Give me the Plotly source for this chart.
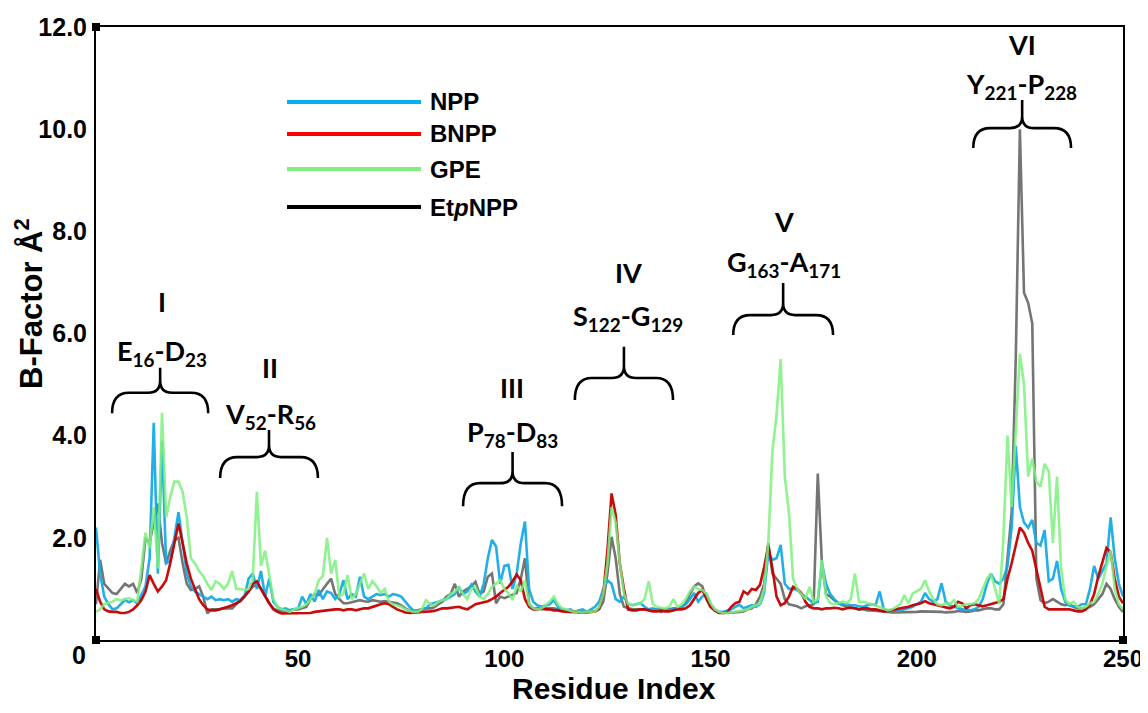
import plotly.graph_objects as go

# ---------------- data ----------------
residues = list(range(1, 251))

series_names = ["NPP", "BNPP", "GPE", "Et<i>p</i>NPP"]

npp = [
    2.2, 1.3, 0.85, 0.7, 0.6, 0.62, 0.7, 0.78, 0.74, 0.78,
    0.72, 0.9, 1.05, 1.6, 4.25, 1.3, 3.9, 1.5, 1.55, 2.0,
    2.5, 1.9, 1.3, 1.05, 0.95, 0.9, 0.85, 0.8, 0.85, 0.78,
    0.8, 0.78, 0.8, 0.75, 0.8, 0.78, 0.85, 1.2, 1.3, 1.0,
    1.35, 0.85, 1.2, 0.75, 0.65, 0.6, 0.62, 0.58, 0.6, 0.62,
    0.85, 0.7, 0.9, 0.75, 0.98, 0.8, 0.95, 0.92, 0.8, 0.9,
    1.17, 0.8, 0.9, 0.85, 1.24, 0.85, 0.8, 0.85, 0.9, 0.88,
    0.9, 0.85, 0.9, 0.88, 0.85, 0.75, 0.65, 0.58, 0.55, 0.6,
    0.62, 0.7, 0.72, 0.75, 0.78, 0.8, 0.85, 0.9, 1.04, 0.9,
    0.95, 1.08, 0.95, 0.85, 1.1, 1.6, 1.96, 1.83, 1.1, 1.45,
    1.47, 1.0, 1.3, 1.9, 2.32, 1.0, 0.75, 0.68, 0.65, 0.68,
    0.7, 0.78, 0.65, 0.6, 0.58, 0.6, 0.55, 0.58, 0.6, 0.55,
    0.6, 0.65, 0.75, 1.0, 1.17, 1.1, 0.8, 0.75, 0.85, 0.7,
    0.68, 0.7, 0.72, 0.65, 0.6, 0.62, 0.6, 0.55, 0.6, 0.58,
    0.62, 0.6, 0.65, 0.7, 0.8, 0.92, 0.75, 0.85, 0.9, 0.7,
    0.6, 0.55, 0.55, 0.58, 0.6, 0.65, 0.69, 0.62, 0.65, 0.68,
    0.65, 0.7, 0.92, 1.7, 1.57, 1.6, 1.86, 1.1, 1.0, 1.0,
    0.98, 0.9, 0.85, 0.78, 0.72, 0.75, 1.5, 1.1, 0.9, 0.8,
    0.72, 0.7, 0.7, 0.68, 0.68, 0.66, 0.65, 0.68, 0.7, 0.68,
    0.95, 0.6, 0.58, 0.58, 0.58, 0.58, 0.6, 0.62, 0.65, 0.7,
    0.75, 0.92, 0.8, 0.75, 0.8, 1.11, 0.75, 0.68, 0.65, 0.62,
    0.6, 0.6, 0.58, 0.6, 0.65, 0.8, 1.1, 1.3, 1.15, 1.1,
    1.2, 1.45, 2.2, 3.8, 2.6, 2.3, 2.2, 2.35, 1.9, 1.85,
    2.15, 1.15, 1.2, 1.55, 1.0, 0.75, 0.67, 0.66, 0.65, 0.7,
    0.7, 1.0, 1.45, 1.2, 1.35, 1.5, 2.4, 1.6, 1.1, 0.85,
]

bnpp = [
    1.0, 0.75, 0.6, 0.56, 0.55, 0.55, 0.53, 0.53, 0.55, 0.6,
    0.68, 0.78, 0.95, 1.27, 1.1, 0.95, 1.05, 1.17, 1.5, 1.9,
    2.28, 1.9, 1.5, 1.2, 1.0, 0.8, 0.68, 0.6, 0.58, 0.58,
    0.6, 0.62, 0.65, 0.68, 0.72, 0.76, 0.85, 0.95, 1.1, 1.15,
    1.0, 0.85, 0.72, 0.6, 0.55, 0.52, 0.52, 0.52, 0.53, 0.52,
    0.53, 0.53, 0.53, 0.55, 0.56, 0.58, 0.58, 0.6, 0.6, 0.6,
    0.58, 0.6, 0.6, 0.58, 0.6, 0.62, 0.62, 0.65, 0.68, 0.7,
    0.72, 0.7, 0.65, 0.6, 0.57, 0.54, 0.53, 0.53, 0.54, 0.55,
    0.55, 0.56, 0.57, 0.6, 0.62, 0.62, 0.63, 0.65, 0.65, 0.62,
    0.6, 0.65, 0.7, 0.72, 0.74, 0.76, 0.8, 0.85, 0.92, 0.98,
    1.04, 1.15, 1.28, 1.17, 0.8, 0.65, 0.6, 0.6, 0.62, 0.6,
    0.6, 0.58, 0.58, 0.56, 0.55, 0.55, 0.55, 0.54, 0.54, 0.54,
    0.55, 0.56, 0.62, 0.9, 1.76, 2.87, 2.45, 1.5, 1.0, 0.6,
    0.58, 0.58, 0.6, 0.6, 0.58, 0.56, 0.56, 0.57, 0.56, 0.56,
    0.58, 0.6, 0.6, 0.62, 0.68, 0.8, 0.92, 0.98, 0.8, 0.65,
    0.58, 0.53, 0.53, 0.54, 0.65, 0.72, 0.75, 0.95, 0.9, 1.0,
    0.98, 1.08, 1.43, 1.85, 1.4, 0.85, 0.68, 0.72, 0.85, 1.04,
    1.0, 0.92, 0.75, 0.65, 0.62, 0.62, 0.6, 0.62, 0.62, 0.63,
    0.62, 0.6, 0.62, 0.63, 0.62, 0.6, 0.62, 0.62, 0.6, 0.6,
    0.58, 0.56, 0.57, 0.58, 0.6, 0.62, 0.63, 0.65, 0.68, 0.7,
    0.72, 0.76, 0.72, 0.7, 0.68, 0.66, 0.64, 0.62, 0.65, 0.75,
    0.72, 0.62, 0.68, 0.7, 0.68, 0.66, 0.68, 0.7, 0.72, 0.75,
    0.8, 1.2, 1.5, 1.85, 2.2, 2.1, 1.9, 1.75, 1.4, 1.0,
    0.65, 0.6, 0.6, 0.6, 0.6, 0.6, 0.6, 0.58, 0.56, 0.56,
    0.6, 0.7, 0.9, 1.24, 1.5, 1.8, 1.72, 1.2, 0.85, 0.72,
]

gpe = [
    0.55, 0.6, 0.7, 0.72, 0.75, 0.8, 0.78, 0.8, 0.82, 0.78,
    0.75, 1.4, 2.1, 1.8, 2.6, 1.4, 4.45, 2.4, 2.8, 3.1,
    3.1, 2.9, 2.4, 1.6, 1.5, 1.35, 1.25, 1.1, 0.98, 1.15,
    1.1, 1.0, 1.1, 1.35, 1.0, 1.0, 0.98, 1.0, 1.2, 2.9,
    1.45, 1.75, 1.3, 0.8, 0.65, 0.6, 0.58, 0.55, 0.6, 0.62,
    0.65, 0.7, 0.8, 0.9, 1.17, 1.25, 2.0, 1.3, 1.57, 0.85,
    0.9, 1.27, 0.8, 0.9, 1.1, 1.3, 1.0, 1.15, 1.05, 0.92,
    1.0, 0.75, 0.7, 0.68, 0.65, 0.6, 0.57, 0.55, 0.55, 0.6,
    0.78, 0.7, 0.68, 0.75, 0.78, 0.8, 0.9, 0.95, 1.04, 0.9,
    0.8, 1.0, 1.04, 0.85, 0.8, 0.9, 1.04, 1.1, 1.17, 1.0,
    0.92, 0.78, 1.08, 0.95, 1.17, 0.7, 0.62, 0.6, 0.62, 0.68,
    0.75, 0.85, 0.7, 0.62, 0.6, 0.58, 0.55, 0.55, 0.54, 0.55,
    0.55, 0.56, 0.65, 0.9, 1.5, 2.6, 2.3, 1.5, 0.9, 0.7,
    0.68, 0.7, 0.72, 0.8, 1.15, 0.7, 0.65, 0.63, 0.62, 0.65,
    0.8, 0.65, 0.7, 0.8, 0.95, 1.05, 1.0, 0.98, 0.9, 0.72,
    0.6, 0.55, 0.53, 0.53, 0.54, 0.55, 0.56, 0.58, 0.6, 0.65,
    0.68, 0.72, 1.0, 1.9, 3.7, 4.4, 5.5, 3.2, 2.5, 1.2,
    1.0, 0.9, 0.8, 1.04, 0.75, 0.8, 1.57, 0.85, 0.72, 0.7,
    0.72, 0.75, 0.72, 0.8, 1.3, 0.75, 0.75, 0.72, 0.7, 0.68,
    0.65, 0.62, 0.58, 0.6, 0.65, 0.7, 0.88, 0.72, 0.91, 0.95,
    1.0, 1.17, 0.95, 0.8, 0.7, 0.68, 0.72, 0.7, 0.78, 0.65,
    0.68, 0.7, 0.7, 0.72, 0.8, 1.0, 1.2, 1.3, 1.0, 0.7,
    2.0, 4.0, 2.6, 4.2, 5.6, 5.0, 3.2, 3.55, 3.1, 3.0,
    3.45, 3.3, 1.9, 3.2, 1.4, 0.8, 0.7, 0.75, 0.65, 0.62,
    0.65, 0.72, 0.75, 0.9, 1.1, 1.45, 1.75, 1.0, 0.7, 0.6,
]

etpnpp = [
    0.7, 1.57, 1.1, 1.0, 0.92, 0.9, 1.0, 1.1, 1.05, 1.1,
    0.92, 1.2, 2.0, 1.9, 2.3, 2.67, 1.9, 1.5, 1.75, 1.95,
    2.0, 1.5, 1.1, 0.98, 1.0, 1.05, 0.85, 0.52, 0.6, 0.6,
    0.6, 0.62, 0.62, 0.62, 0.7, 0.78, 0.85, 0.95, 1.04, 1.1,
    1.0, 0.85, 0.72, 0.62, 0.58, 0.56, 0.56, 0.58, 0.6, 0.6,
    0.62, 0.65, 0.8, 0.9, 0.88, 1.0, 1.1, 1.2, 0.9, 0.8,
    0.72, 0.72, 0.74, 0.76, 0.78, 0.76, 0.75, 0.78, 0.76, 0.75,
    0.76, 0.75, 0.73, 0.72, 0.68, 0.62, 0.58, 0.57, 0.58, 0.6,
    0.62, 0.62, 0.64, 0.7, 0.75, 0.85, 0.9, 1.1, 0.85, 0.95,
    1.0, 1.05, 1.14, 0.9, 0.95, 1.24, 1.3, 0.72, 0.85, 0.82,
    0.85, 0.88, 0.92, 1.2, 1.6, 0.7, 0.62, 0.62, 0.6, 0.62,
    0.62, 0.62, 0.6, 0.58, 0.56, 0.55, 0.55, 0.54, 0.54, 0.55,
    0.55, 0.56, 0.6, 0.75, 1.3, 2.02, 1.6, 0.9, 0.65, 0.62,
    0.6, 0.6, 0.6, 0.6, 0.6, 0.6, 0.6, 0.6, 0.6, 0.6,
    0.62, 0.62, 0.65, 0.72, 0.9, 1.05, 1.11, 1.05, 0.8, 0.65,
    0.58, 0.54, 0.53, 0.53, 0.53, 0.54, 0.55, 0.56, 0.6, 0.62,
    0.7, 0.85, 1.1, 1.9, 1.3, 1.2, 1.1, 0.8, 0.7, 0.68,
    0.66, 0.62, 0.66, 0.68, 0.7, 3.26, 1.5, 0.9, 0.85, 0.78,
    0.72, 0.68, 0.66, 0.65, 0.62, 0.6, 0.6, 0.58, 0.58, 0.57,
    0.56, 0.55, 0.55, 0.54, 0.54, 0.54, 0.54, 0.55, 0.55, 0.55,
    0.56, 0.56, 0.56, 0.55, 0.55, 0.55, 0.54, 0.54, 0.55, 0.57,
    0.56, 0.55, 0.56, 0.58, 0.58, 0.6, 0.62, 0.62, 0.6, 0.6,
    0.7, 1.6, 2.5, 5.5, 10.0, 6.8, 6.6, 6.2, 1.2, 0.78,
    0.72, 0.75, 0.8, 0.75, 0.7, 0.68, 0.7, 0.65, 0.62, 0.62,
    0.62, 0.65, 0.7, 0.8, 0.9, 1.1, 1.0, 0.8, 0.65, 0.55,
]

x_tick_values = [50, 100, 150, 200, 250]
y_tick_values = [2, 4, 6, 8, 10, 12]
y_tick_labels = ["2.0", "4.0", "6.0", "8.0", "10.0", "12.0"]

x_title = "Residue Index"
y_title = "B-Factor Å<sup>2</sup>"
origin_label = "0"

region_numerals = ["I", "II", "III", "IV", "V", "VI"]
region_ranges = [
    "E<sub>16</sub>-D<sub>23</sub>",
    "V<sub>52</sub>-R<sub>56</sub>",
    "P<sub>78</sub>-D<sub>83</sub>",
    "S<sub>122</sub>-G<sub>129</sub>",
    "G<sub>163</sub>-A<sub>171</sub>",
    "Y<sub>221</sub>-P<sub>228</sub>",
]

# ---------------- styles ----------------
line_colors = ["#17ABE6", "#C40000", "#7DF07D", "#6E6E6E"]
line_opacity = [0.95, 0.95, 0.85, 0.95]
legend_colors = ["#00B0F0", "#FF0000", "#7FEF7F", "#000000"]
draw_order = [3, 0, 1, 2]  # gray, blue, red, green on top

# annotation / brace layout (data coordinates): centre x, numeral y, range-text y,
# brace left, brace right, brace end y, brace bar y, brace tip y
region_layout = [
    (17.0, 6.62, 5.62, 4.9, 28.2, 4.44, 4.84, 5.33),
    (43.2, 5.33, 4.40, 31.1, 54.8, 3.17, 3.58, 4.11),
    (101.9, 4.95, 4.05, 90.0, 114.0, 2.62, 3.07, 3.68),
    (130.0, 7.20, 6.32, 117.1, 140.9, 4.70, 5.13, 5.74),
    (167.9, 8.20, 7.38, 155.5, 179.7, 5.97, 6.36, 6.99),
    (225.5, 11.65, 10.85, 213.7, 237.4, 9.63, 10.02, 10.57),
]

ARIAL = "Liberation Sans, Arial, sans-serif"
LABEL_FONT = "Lato, Carlito, Calibri, sans-serif"

X_RANGE = [1, 250]
Y_RANGE = [0, 12]

# page is rendered with an 8px body margin; plot area target on the page:
BODY = 8
PLOT_L, PLOT_R, PLOT_T, PLOT_B = 96, 1123, 27, 640
W, H = 1148 - BODY, 713 - BODY
ML, MT = PLOT_L - BODY, PLOT_T - BODY
MR = W - (PLOT_R - BODY)
MB = H - (PLOT_B - BODY)
PW, PH = PLOT_R - PLOT_L, PLOT_B - PLOT_T
px_per_x = PW / (X_RANGE[1] - X_RANGE[0])
px_per_y = PH / (Y_RANGE[1] - Y_RANGE[0])


def paper_x(page_px):
    return (page_px - PLOT_L) / PW


def paper_y(page_py):
    return (PLOT_B - page_py) / PH


series_values = [npp, bnpp, gpe, etpnpp]

fig = go.Figure()
for i in draw_order:
    fig.add_trace(go.Scatter(
        x=residues, y=series_values[i], mode="lines",
        name=series_names[i],
        line=dict(color=line_colors[i], width=2.6),
        opacity=line_opacity[i],
        showlegend=False,
        hovertemplate="Residue %{x}<br>B-factor %{y}<extra>" + series_names[i] + "</extra>",
    ))

shapes = []
annotations = []


def brace_path(x0, x1, xc, yb, yl, yt):
    c = 17 / px_per_x          # end-corner width
    c2 = 12 / px_per_x         # centre-curve width
    c2v = 12 / px_per_y        # centre-curve height
    pts = [
        f"M{x0},{yb}",
        f"Q{x0},{yl} {x0 + c},{yl}",
        f"L{xc - c2},{yl}",
        f"Q{xc},{yl} {xc},{yl + c2v}",
        f"L{xc},{yt}",
        f"M{xc},{yl + c2v}",
        f"Q{xc},{yl} {xc + c2},{yl}",
        f"L{x1 - c},{yl}",
        f"Q{x1},{yl} {x1},{yb}",
    ]
    return " ".join(pts)


for numeral, rng, (xc, yn, yr, bx0, bx1, byb, byl, byt) in zip(region_numerals, region_ranges, region_layout):
    bxc = (bx0 + bx1) / 2
    shapes.append(dict(type="path", xref="x", yref="y",
                       path=brace_path(bx0, bx1, bxc, byb, byl, byt),
                       line=dict(color="black", width=2.6)))
    annotations.append(dict(x=xc, y=yn, xref="x", yref="y", text=numeral,
                            xanchor="center", yanchor="middle", showarrow=False,
                            font=dict(family=LABEL_FONT, size=27, color="black", weight="bold")))
    annotations.append(dict(x=xc, y=yr, xref="x", yref="y", text=rng,
                            xanchor="center", yanchor="middle", showarrow=False,
                            font=dict(family=LABEL_FONT, size=27, color="black", weight="bold")))

# manual legend with long line samples
legend_y_px = [102, 134, 169, 207]
for name, col, ypx in zip(series_names, legend_colors, legend_y_px):
    yp = paper_y(ypx)
    shapes.append(dict(type="line", xref="paper", yref="paper", x0=paper_x(287), x1=paper_x(421),
                       y0=yp, y1=yp, line=dict(color=col, width=4)))
    annotations.append(dict(x=paper_x(428), y=yp, xref="paper", yref="paper", text=name,
                            xanchor="left", yanchor="middle", showarrow=False,
                            font=dict(family=ARIAL, size=24, color="black", weight="bold")))

# corner square markers
for cx, cy in [(0, 0), (1, 0), (0, 1)]:
    shapes.append(dict(type="rect", xref="paper", yref="paper", xsizemode="pixel", ysizemode="pixel",
                       xanchor=cx, yanchor=cy, x0=-4, x1=4, y0=-4, y1=4,
                       fillcolor="black", line=dict(width=0)))

# origin label "0"
annotations.append(dict(x=paper_x(79), y=paper_y(655), xref="paper", yref="paper",
                        text=origin_label, xanchor="center", yanchor="middle", showarrow=False,
                        font=dict(family=ARIAL, size=25, color="black", weight="bold")))

# axis titles
annotations.append(dict(x=paper_x(29), y=paper_y(304), xref="paper", yref="paper",
                        text=y_title, textangle=-90, xanchor="center", yanchor="middle",
                        showarrow=False, font=dict(family=ARIAL, size=31, color="black", weight="bold")))
annotations.append(dict(x=paper_x(614), y=paper_y(688), xref="paper", yref="paper",
                        text=x_title, xanchor="center", yanchor="middle",
                        showarrow=False, font=dict(family=ARIAL, size=30, color="black", weight="bold")))

fig.update_layout(
    width=W, height=H,
    margin=dict(l=ML, r=MR, t=MT, b=MB, autoexpand=False),
    paper_bgcolor="white", plot_bgcolor="white",
    showlegend=False,
    shapes=shapes, annotations=annotations,
    xaxis=dict(range=X_RANGE, tickvals=x_tick_values, showgrid=False, zeroline=False,
               showline=True, mirror=True, linecolor="black", linewidth=2, ticks="",
               automargin=False, ticklabelstandoff=-4,
               tickfont=dict(family=ARIAL, size=24, color="black", weight="bold")),
    yaxis=dict(range=Y_RANGE, tickvals=y_tick_values, ticktext=y_tick_labels, showgrid=False,
               zeroline=False, showline=True, mirror=True, linecolor="black", linewidth=2, ticks="",
               automargin=False, ticklabelstandoff=2,
               tickfont=dict(family=ARIAL, size=25, color="black", weight="bold")),
)

fig.write_html("out.html")
